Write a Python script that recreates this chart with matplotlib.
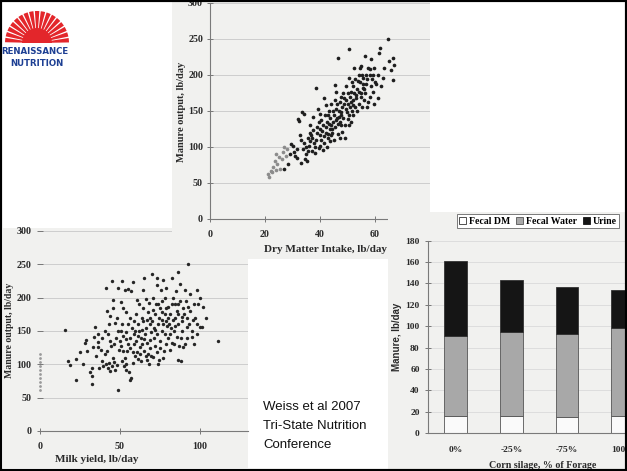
import matplotlib.pyplot as plt
from matplotlib.patches import Rectangle, Wedge, Patch

W, H = 627, 471

# --- Manure vs dry matter intake (top chart) ---
dmi_light_intake = [21, 21.5, 22, 22.5, 23, 23.5, 24, 24.5, 25, 25.5, 26, 26.5, 27, 27.5, 28, 24]
dmi_light_manure = [62, 59, 67, 65, 72, 80, 90, 76, 86, 70, 83, 93, 100, 88, 97, 68]

dmi_intake = [
    27, 28.5, 29.5, 30, 30.5, 31, 31.5, 32, 32.3, 32.6, 31.8, 29,
    33.5, 34, 33.8, 33.2, 34.4, 35, 35.5, 34.8, 36, 35.7, 36.2, 33, 34.2, 35.3, 36.5,
    36.8, 37.4, 37.4, 38.6, 39.2, 39.9, 39.9, 40, 37, 38, 38.5, 39, 37.8, 38.2, 39.5, 36.5, 38.8, 39.6, 37.2, 40,
    41, 41.3, 42.3, 42.9, 43.5, 44, 40.5, 41.5, 42, 42.5, 43, 43.8, 41.8, 40.8, 42.7, 43.2, 44, 41.2, 42.2, 43.6,
    40.3, 44, 42.8, 41.6, 43.4,
    44.7, 45.3, 45.9, 45.9, 46.5, 47.1, 47.1, 47.7, 48, 44.5, 45, 45.5, 46, 46.5, 47, 47.5, 46.2, 45.2, 44.8, 46.8,
    47.8, 45.6, 47.3, 46.4, 44.3, 48, 45.8, 47.6,
    48.9, 49.5, 50.1, 50.5, 50.7, 51.3, 51.9, 48.5, 49, 49.5, 50, 50.5, 51, 51.5, 52, 49.2, 50.3, 51.2, 48.7, 49.8,
    50.8, 51.7, 52, 48.3, 49.6, 50.6, 51.4, 52,
    52.5, 53.1, 53.7, 54.3, 55, 55.6, 56.2, 52.7, 53.3, 54, 54.5, 55, 55.5, 56, 52.9, 53.6, 54.2, 54.8, 55.3, 55.8,
    53, 54.7, 56, 52.4, 55.2,
    56.8, 57.4, 58, 58.6, 59.2, 59.8, 56.5, 57, 57.5, 58, 58.5, 59, 59.5, 60, 57.2, 58.3, 59.4, 56.7,
    60.4, 61, 61.6, 61.8, 62.8, 63.4, 64.6, 65.2, 65.8, 66.4, 66.4, 67, 61, 62,
]
dmi_manure = [
    70, 76, 104, 102, 93, 88, 85, 139, 136, 116, 97, 90,
    149, 146, 97, 78, 83, 90, 112, 100, 102, 95, 120, 110, 105, 80, 108,
    116, 123, 142, 182, 153, 146, 116, 102, 95, 100, 110, 128, 105, 92, 135, 130, 120, 98, 112, 125,
    130, 168, 158, 144, 125, 116, 110, 105, 120, 135, 112, 140, 145, 122, 100, 150, 130, 96, 128, 108,
    138, 160, 118, 115, 132,
    135, 186, 177, 153, 224, 163, 135, 149, 121, 120, 145, 128, 140, 118, 150, 130, 160, 110, 150, 142,
    170, 165, 112, 132, 125, 155, 138, 145,
    168, 153, 139, 236, 196, 177, 158, 140, 130, 185, 160, 145, 170, 150, 185, 112, 175, 135, 160, 148,
    155, 190, 165, 175, 165, 130, 162, 145,
    210, 168, 191, 177, 212, 196, 226, 155, 180, 160, 190, 170, 182, 165, 195, 150, 200, 175, 155, 188,
    172, 210, 180, 175, 200,
    187, 163, 200, 222, 177, 210, 175, 195, 210, 170, 185, 195, 160, 190, 155, 208, 200, 200,
    187, 168, 231, 238, 196, 210, 250, 219, 207, 224, 193, 214, 200, 185,
]

# --- Manure vs milk yield (left chart) ---
milk_axis_manure = [62, 68, 74, 80, 86, 92, 98, 104, 110, 115]

milk_yield = [
    15.6, 17.7, 18.9, 22.5, 22.5, 28, 28.8, 25, 27, 29.5,
    32.3, 32.7, 32.3, 34, 34.4, 33, 36.5, 36.5, 38, 37, 39, 35, 38.5, 31, 39.5, 36,
    41, 44.8, 43.3, 45.8, 45.8, 42, 40.5, 41.5, 42.5, 43, 44, 45, 46, 47, 48, 49, 48.5, 47.5, 46.5, 44.5,
    43.5, 42.8, 41.8, 40.8, 45.5, 49.5, 48, 47, 44, 49.8,
    51, 49, 53, 52, 50.5, 55, 57, 58, 54, 56, 59, 50.5, 52, 53.5, 55, 56.5, 58, 59.5, 51, 52.5,
    54, 55.5, 57, 56, 53, 54.5, 58.5, 57.5, 51.5, 55, 59, 50.5, 52, 53.5, 56, 58, 59.5, 54,
    60.5, 62, 64.6, 65, 66.7, 67.7, 68.8, 69.8, 60, 61, 62, 63, 64, 65, 66, 67, 68, 69, 61.5, 62.5,
    63.5, 64.5, 65.5, 66.5, 67.5, 68.5, 69.5, 60.5, 61.5, 62.5, 63.5, 64.5, 66, 68, 69, 63, 65, 67, 60, 69.5,
    70.4, 70.8, 71.9, 72.9, 74, 74.6, 76, 77, 78, 79, 70, 71, 72, 73, 74, 75, 76, 77, 78, 79,
    70.5, 72, 73.5, 75, 76.5, 78, 79.5, 71, 73, 75, 77, 79, 72.5, 74.5, 76, 78.5, 80, 73, 75.5, 77.5,
    80.2, 81.3, 82.3, 83.3, 84.4, 85.4, 86.5, 87.5, 88.5, 89.6, 80.5, 81.5, 82.5, 83.5, 84.5, 85.5, 86.5,
    87.5, 88.5, 89.5, 81, 82, 83, 84, 85, 86, 87, 88, 89, 80, 82.5, 84.5, 86.5, 88, 86.5,
    90.6, 91.7, 92.7, 92.7, 94.8, 95.8, 97.9, 100, 101, 90, 91, 92, 93, 94, 95, 96, 97, 98, 99, 100,
    90.5, 92, 94, 96, 98, 102, 104, 111,
]
milk_manure = [
    151, 105, 99, 76, 108, 132, 136, 118, 100, 120,
    94, 82, 70, 141, 156, 126, 126, 134, 122, 95, 105, 112, 140, 88, 98, 145,
    214, 225, 160, 196, 185, 180, 115, 100, 94, 102, 90, 97, 104, 92, 99, 61, 150, 140, 130, 128,
    135, 145, 120, 150, 110, 122, 170, 162, 172, 135,
    225, 214, 212, 184, 194, 213, 210, 223, 178, 170, 165, 150, 143, 138, 130, 125, 118, 112, 105, 98,
    92, 88, 80, 76, 110, 120, 145, 155, 160, 160, 130, 128, 120, 100, 140, 102, 150, 148,
    196, 190, 211, 229, 166, 116, 136, 236, 175, 160, 150, 140, 130, 120, 112, 106, 100, 125, 142, 126,
    151, 165, 145, 155, 178, 170, 148, 118, 108, 115, 170, 185, 198, 192, 160, 105, 138, 132, 135, 112,
    181, 111, 151, 219, 191, 106, 166, 226, 146, 214, 165, 140, 128, 118, 100, 135, 150, 160, 175, 185,
    200, 175, 160, 185, 195, 200, 158, 155, 145, 125, 110, 130, 190, 170, 178, 165, 140, 230, 212, 120,
    186, 121, 229, 166, 191, 141, 106, 221, 171, 126, 160, 175, 190, 150, 170, 180, 160,
    195, 150, 185, 145, 155, 200, 130, 210, 175, 128, 140, 165, 170, 132, 158, 190, 105, 239,
    211, 156, 186, 250, 141, 166, 211, 156, 156, 175, 195, 170, 160, 180, 150, 190, 170, 145, 190, 200,
    130, 140, 205, 130, 160, 186, 170, 135,
]

# --- Manure composition by corn silage level (bar chart) ---
silage_levels = ['0%', '-25%', '-75%', '100%']
fecal_dm = [16, 16, 15, 16]
fecal_water = [75, 79, 78, 82]
urine = [70, 48, 44, 36]

SERIF = 'Liberation Serif'
PANEL = '#f1f1ef'
GRID = '#cdcdcd'
INK = '#2a2a2a'


def box(px, py, pw, ph):
    # pixel box (from top-left) -> figure fraction rect
    return [px / W, 1 - (py + ph) / H, pw / W, ph / H]


def panel(px, py, pw, ph, z):
    bg = fig.add_axes(box(px, py, pw, ph), zorder=z)
    bg.set_facecolor(PANEL)
    bg.set_xticks([])
    bg.set_yticks([])
    for s in bg.spines.values():
        s.set_visible(False)
    return bg


def style_axes(ax, fs, pad=3):
    for side in ['top', 'right']:
        ax.spines[side].set_visible(False)
    for side in ['left', 'bottom']:
        ax.spines[side].set_color('#7a7a7a')
        ax.spines[side].set_linewidth(0.8)
    ax.set_facecolor('none')
    ax.grid(axis='y', color=GRID, linewidth=0.7)
    ax.set_axisbelow(True)
    ax.tick_params(direction='inout', length=4, width=0.7, color='#777777',
                   labelsize=fs, labelcolor=INK, pad=pad)
    for lab in ax.get_xticklabels() + ax.get_yticklabels():
        lab.set_fontfamily(SERIF)
        lab.set_fontweight('bold')


def label(px, py, s, size, rot=0, family=SERIF):
    fig.text(px / W, 1 - py / H, s, rotation=rot, ha='center', va='center', fontsize=size,
             fontweight='bold', family=family, color=INK, zorder=30)


fig = plt.figure(figsize=(W / 100, H / 100), dpi=100)
fig.patch.set_facecolor('white')

# milk yield panel
panel(3, 228, 245, 240, 1)
ax1 = fig.add_axes(box(40, 231, 208, 200), zorder=2)
ax1.scatter(milk_yield, milk_manure, s=6, color='#262626', linewidths=0)
ax1.scatter([0] * len(milk_axis_manure), milk_axis_manure, s=4, color='#9a9a9a',
            linewidths=0, clip_on=False)
ax1.set_xlim(0, 130)
ax1.set_ylim(0, 300)
ax1.set_xticks([0, 50, 100])
ax1.set_yticks(range(0, 301, 50))
style_axes(ax1, 7.2, pad=4)
ax1.tick_params(axis='x', pad=6)
ax1.spines['left'].set_visible(False)
label(10, 330, 'Manure output, lb/day', 7, rot=90)
label(97, 459, 'Milk yield, lb/day', 8)

# dry matter intake panel
panel(172, 0, 258, 259, 3)
ax2 = fig.add_axes(box(210, 3, 220, 216), zorder=4)
ax2.scatter(dmi_light_intake, dmi_light_manure, s=7, color='#8c8c8c', linewidths=0)
ax2.scatter(dmi_intake, dmi_manure, s=7, color='#1e1e1e', linewidths=0)
ax2.set_xlim(0, 80)
ax2.set_ylim(0, 300)
ax2.set_xticks([0, 20, 40, 60, 80])
ax2.set_yticks(range(0, 301, 50))
style_axes(ax2, 7.2, pad=3)
ax2.tick_params(axis='x', pad=6)
label(181, 112, 'Manure output, lb/day', 7.5, rot=90)
label(325, 250, 'Dry Matter Intake, lb/day', 8)

# bar chart panel
panel(388, 212, 239, 259, 5)
ax3 = fig.add_axes(box(428, 240.7, 222.4, 192.6), zorder=6)
xs = range(len(silage_levels))
bottom2 = [a + b for a, b in zip(fecal_dm, fecal_water)]
ax3.bar(xs, fecal_dm, width=0.41, color='#fafafa', edgecolor='#555555', linewidth=0.6)
ax3.bar(xs, fecal_water, width=0.41, bottom=fecal_dm, color='#a8a8a8',
        edgecolor='#555555', linewidth=0.6)
ax3.bar(xs, urine, width=0.41, bottom=bottom2, color='#151515', edgecolor='#333333', linewidth=0.6)
ax3.set_xlim(-0.5, 3.5)
ax3.set_ylim(0, 180)
ax3.set_yticks(range(0, 181, 20))
ax3.set_xticks(list(xs))
ax3.set_xticklabels(silage_levels)
style_axes(ax3, 6.8, pad=4)
ax3.grid(axis='y', color='#dadada', linewidth=0.6)
ax3.tick_params(axis='x', length=0, pad=9)
label(397, 337, 'Manure, lb/day', 7, rot=90, family='Liberation Sans')
label(543, 465, 'Corn silage, % of Forage', 7.2)
handles = [Patch(facecolor='white', edgecolor='#333333', linewidth=0.6),
           Patch(facecolor='#a8a8a8', edgecolor='#555555', linewidth=0.6),
           Patch(facecolor='#151515', edgecolor='#151515', linewidth=0.6)]
leg = ax3.legend(handles, ['Fecal DM', 'Fecal Water', 'Urine'], ncol=3, loc='center',
                 bbox_to_anchor=(538 / W, 1 - 221 / H), bbox_transform=fig.transFigure,
                 prop={'family': SERIF, 'weight': 'bold', 'size': 7},
                 handlelength=0.7, handleheight=0.7, handletextpad=0.3, columnspacing=0.6,
                 borderpad=0.25, fancybox=False, framealpha=1, edgecolor='#666666')
leg.get_frame().set_linewidth(0.6)

# citation text
for i, line in enumerate(['Weiss et al 2007', 'Tri-State Nutrition', 'Conference']):
    fig.text(263 / W, 1 - (407 + 19 * i) / H, line, ha='left', va='center',
             fontsize=9.5, family='Liberation Sans', color='#111111', zorder=30)

# logo
logo = fig.add_axes(box(0, 0, 75, 70), zorder=7)
logo.set_xlim(0, 75)
logo.set_ylim(0, 70)
logo.axis('off')
red = '#e3262b'
for i in range(17):
    a = 5 + i * 10.6
    logo.add_patch(Wedge((37, 27), 32, a - 4, a + 4, width=20, color=red, linewidth=0))
logo.add_patch(Wedge((37, 27), 15, 0, 180, color=red, linewidth=0))
logo.text(35, 18, 'RENAISSANCE', ha='center', va='center', fontsize=6.2, fontweight='bold',
          color='#1d3f93', family='DejaVu Sans')
logo.text(37, 7, 'NUTRITION', ha='center', va='center', fontsize=6.2, fontweight='bold',
          color='#1d3f93', family='DejaVu Sans')

# slide frame
fig.add_artist(Rectangle((0, 0), 1, 1, transform=fig.transFigure, fill=False,
                         edgecolor='black', linewidth=3, zorder=40))

fig.savefig('out.png', dpi=100)
